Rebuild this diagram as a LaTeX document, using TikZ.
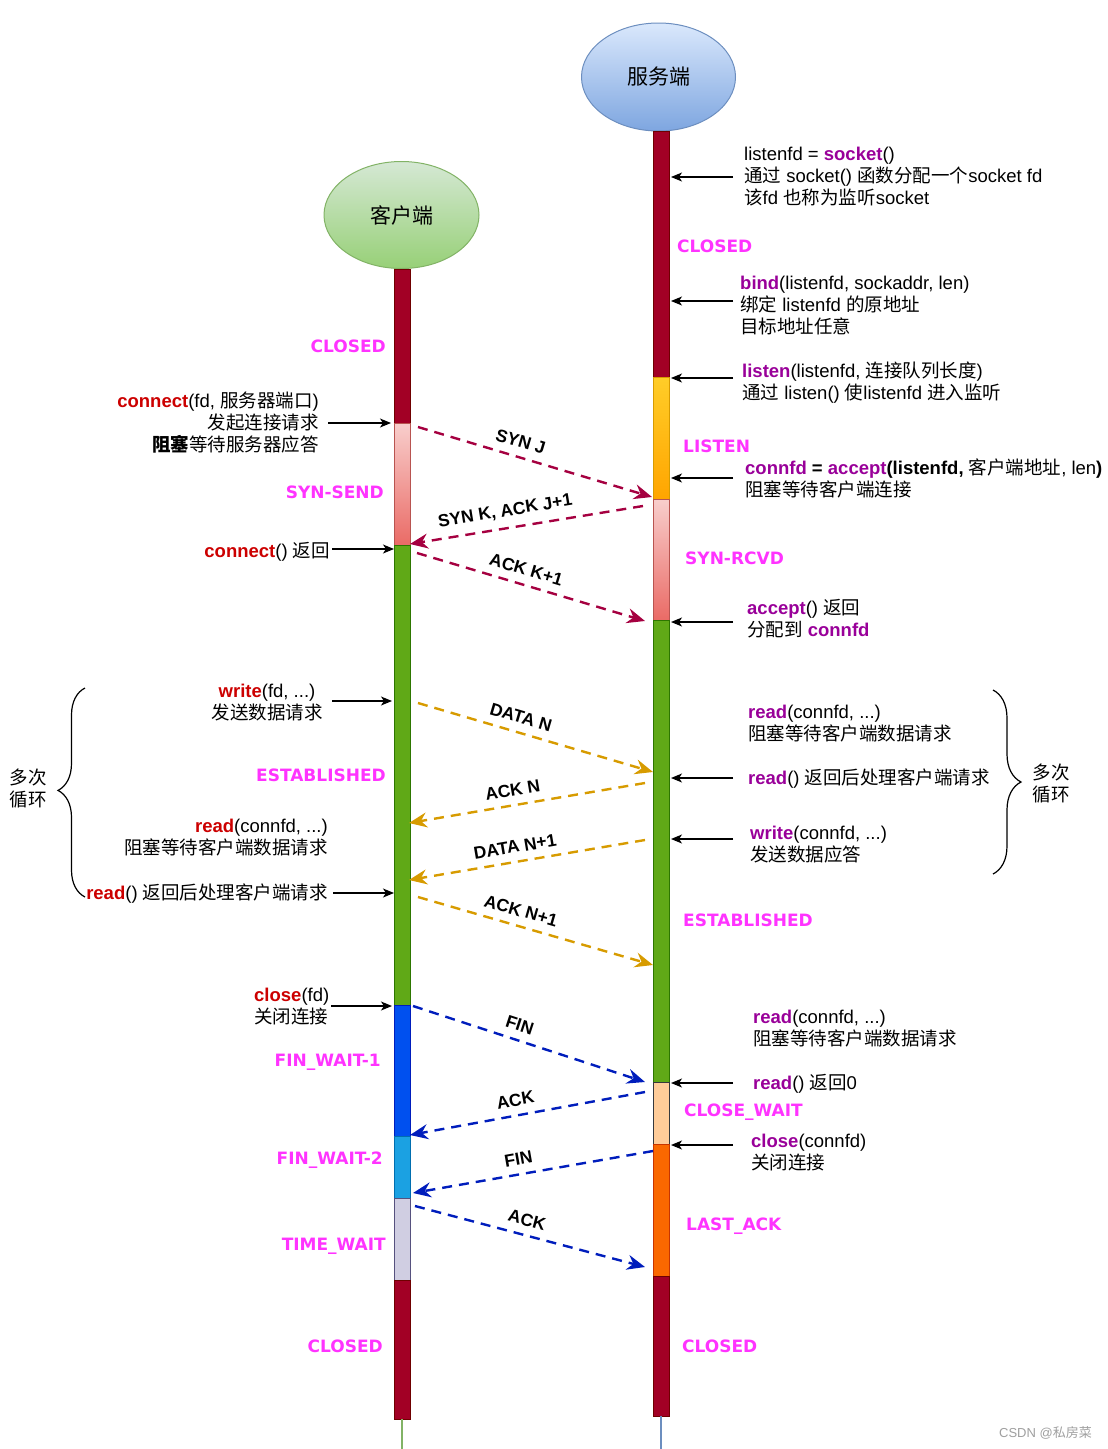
\documentclass[tikz,border=0pt]{standalone}
\usepackage{fontspec}
\setmainfont{Liberation Sans}
\newfontfamily\cjk{Noto Sans CJK SC}
\newfontfamily\statefont{DejaVu Sans}
\usetikzlibrary{arrows.meta,positioning,calc,shapes.geometric,decorations.pathreplacing}

% lifeline colours
\definecolor{closedred}{HTML}{A20025}
\definecolor{closedline}{HTML}{6F0000}
\definecolor{synlight}{HTML}{F8CECC}
\definecolor{syndark}{HTML}{EA6B66}
\definecolor{synline}{HTML}{B85450}
\definecolor{listentop}{HTML}{FFCD28}
\definecolor{listenbot}{HTML}{FFA500}
\definecolor{listenline}{HTML}{D79B00}
\definecolor{estgreen}{HTML}{60A917}
\definecolor{estline}{HTML}{2D7600}
\definecolor{fwone}{HTML}{0050EF}
\definecolor{fwoneline}{HTML}{001DBC}
\definecolor{fwtwo}{HTML}{1BA1E2}
\definecolor{fwtwoline}{HTML}{006EAF}
\definecolor{twait}{HTML}{D0CEE2}
\definecolor{twaitline}{HTML}{56517E}
\definecolor{cwait}{HTML}{FFCC99}
\definecolor{cwaitline}{HTML}{36393D}
\definecolor{lastack}{HTML}{FA6800}
\definecolor{lastackline}{HTML}{C73500}
\definecolor{srvtop}{HTML}{DAE8FC}
\definecolor{srvbot}{HTML}{7EA6E0}
\definecolor{srvline}{HTML}{6C8EBF}
\definecolor{clitop}{HTML}{D5E8D4}
\definecolor{clibot}{HTML}{97D077}
\definecolor{cliline}{HTML}{82B366}
% text and message colours
\definecolor{fnred}{HTML}{CC0000}
\definecolor{fnpurple}{HTML}{990099}
\definecolor{stpink}{HTML}{FF33FF}
\definecolor{synarrow}{HTML}{A50040}
\definecolor{dataarrow}{HTML}{D79B00}
\definecolor{finarrow}{HTML}{001DBC}

\newcommand\zh[1]{{\cjk #1}}
\newcommand\clifn[1]{\textcolor{fnred}{\textbf{#1}}}
\newcommand\srvfn[1]{\textcolor{fnpurple}{\textbf{#1}}}

\begin{document}
\begin{tikzpicture}[x=1pt, y=-1pt,
    seg/.style={draw, line width=0.8pt, minimum width=16, inner sep=0, outer sep=0, anchor=north},
    statelbl/.style={text=stpink, inner sep=0, font=\statefont\bfseries\fontsize{17}{18}\selectfont},
    txt/.style={inner sep=0, font=\fontsize{18.5}{22}\selectfont},
    call/.style={-{Stealth[length=11pt,width=9pt,inset=3pt]}, line width=1.2pt},
    pkt/.style={line width=2.4pt, dash pattern=on 10pt off 7pt, -{Stealth[length=18pt,width=15pt,inset=6pt]}},
    pktlbl/.style={sloped, above=7pt, inner sep=1pt, text=black, font=\bfseries\fontsize{17.5}{18}\selectfont}]

    \useasboundingbox (0,0) rectangle (1108,1449);

    % Hosts
    \node[ellipse, draw=srvline, line width=1pt, top color=srvtop, bottom color=srvbot,
          minimum width=154, minimum height=108, inner sep=0,
          font=\cjk\fontsize{21}{24}\selectfont] (server) at (658.5,77) {服务端};
    \node[ellipse, draw=cliline, line width=1pt, top color=clitop, bottom color=clibot,
          minimum width=155, minimum height=107, inner sep=0,
          font=\cjk\fontsize{21}{24}\selectfont] (client) at (401.5,215) {客户端};

    % Client lifeline
    \node[seg, fill=closedred, draw=closedline, minimum height=154] (cclosed) at (402,269) {};
    \node[seg, top color=synlight, bottom color=syndark, draw=synline, minimum height=122] (csyn) at (cclosed.south) {};
    \node[seg, fill=estgreen, draw=estline, minimum height=460] (cest) at (csyn.south) {};
    \node[seg, fill=fwone, draw=fwoneline, minimum height=131] (cfwone) at (cest.south) {};
    \node[seg, fill=fwtwo, draw=fwtwoline, minimum height=62] (cfwtwo) at (cfwone.south) {};
    \node[seg, fill=twait, draw=twaitline, minimum height=82] (ctwait) at (cfwtwo.south) {};
    \node[seg, fill=closedred, draw=closedline, minimum height=139] (cend) at (ctwait.south) {};
    \draw[cliline, line width=1.5pt] (cend.south) -- ++(0,30);

    % Server lifeline
    \node[seg, fill=closedred, draw=closedline, minimum height=246] (sclosed) at (661,131) {};
    \node[seg, top color=listentop, bottom color=listenbot, draw=listenline, minimum height=122] (slisten) at (sclosed.south) {};
    \node[seg, top color=synlight, bottom color=syndark, draw=synline, minimum height=121] (ssyn) at (slisten.south) {};
    \node[seg, fill=estgreen, draw=estline, minimum height=462] (sest) at (ssyn.south) {};
    \node[seg, fill=cwait, draw=cwaitline, minimum height=62] (scwait) at (sest.south) {};
    \node[seg, fill=lastack, draw=lastackline, minimum height=132] (slast) at (scwait.south) {};
    \node[seg, fill=closedred, draw=closedline, minimum height=140] (send) at (slast.south) {};
    \draw[srvline, line width=1.5pt] (send.south) -- ++(0,33);

    % States
    \node[statelbl, anchor=east] (stc1) at (386,346) {CLOSED};
    \node[statelbl, anchor=east] (stc2) at (384,492) {SYN-SEND};
    \node[statelbl, anchor=east] (stc3) at (386,775) {ESTABLISHED};
    \node[statelbl, anchor=east] (stc4) at (381,1062) {FIN\_WAIT-1};
    \node[statelbl, anchor=east] (stc5) at (383,1160) {FIN\_WAIT-2};
    \node[statelbl, anchor=east] (stc6) at (386,1246) {TIME\_WAIT};
    \node[statelbl, anchor=east] (stc7) at (383,1346) {CLOSED};
    \node[statelbl, anchor=west] (sts1) at (677,246) {CLOSED};
    \node[statelbl, anchor=west] (sts2) at (683,446) {LISTEN};
    \node[statelbl, anchor=west] (sts3) at (685,558) {SYN-RCVD};
    \node[statelbl, anchor=west] (sts4) at (683,920) {ESTABLISHED};
    \node[statelbl, anchor=west] (sts5) at (684,1112) {CLOSE\_WAIT};
    \node[statelbl, anchor=west] (sts6) at (686,1226) {LAST\_ACK};
    \node[statelbl, anchor=west] (sts7) at (682,1346) {CLOSED};

    % Server calls
    \node[txt, anchor=west, align=left] (nsock) at (744,177)
        {listenfd = \srvfn{socket}()\\ \zh{通过} socket() \zh{函数分配一个}socket fd\\ \zh{该}fd \zh{也称为监听}socket};
    \node[txt, anchor=west, align=left] (nbind) at (740,306)
        {\srvfn{bind}(listenfd, sockaddr, len)\\ \zh{绑定} listenfd \zh{的原地址}\\ \zh{目标地址任意}};
    \node[txt, anchor=west, align=left] (nlisten) at (742,383)
        {\srvfn{listen}(listenfd, \zh{连接队列长度})\\ \zh{通过} listen() \zh{使}listenfd \zh{进入监听}};
    \node[txt, anchor=west, align=left] (naccept) at (745,478)
        {\srvfn{connfd} \textbf{=} \srvfn{accept}\textbf{(listenfd,} \zh{客户端地址}, len\textbf{)}\\ \zh{阻塞等待客户端连接}};
    \node[txt, anchor=west, align=left] (naccret) at (747,619)
        {\srvfn{accept}() \zh{返回}\\ \zh{分配到} \srvfn{connfd}};
    \node[txt, anchor=west, align=left] (nsread) at (748,724)
        {\srvfn{read}(connfd, ...)\\ \zh{阻塞等待客户端数据请求}};
    \node[txt, anchor=west] (nsreadret) at (748,779) {\srvfn{read}() \zh{返回后处理客户端请求}};
    \node[txt, anchor=west, align=left] (nswrite) at (750,845)
        {\srvfn{write}(connfd, ...)\\ \zh{发送数据应答}};
    \node[txt, anchor=west, align=left] (nsread2) at (753,1029)
        {\srvfn{read}(connfd, ...)\\ \zh{阻塞等待客户端数据请求}};
    \node[txt, anchor=west] (nsread0) at (753,1084) {\srvfn{read}() \zh{返回}0};
    \node[txt, anchor=west, align=left] (nsclose) at (751,1153)
        {\srvfn{close}(connfd)\\ \zh{关闭连接}};

    % Client calls
    \node[txt, anchor=east, align=right] (nconn) at (319,423)
        {\clifn{connect}(fd, \zh{服务器端口})\\ \zh{发起连接请求}\\ \textbf{\zh{阻塞}}\zh{等待服务器应答}};
    \node[txt, anchor=east] (nconnret) at (330,552) {\clifn{connect}() \zh{返回}};
    \node[txt, align=center] (ncwrite) at (267,703)
        {\clifn{write}(fd, ...)\\ \zh{发送数据请求}};
    \node[txt, anchor=east, align=right] (ncread) at (328,838)
        {\clifn{read}(connfd, ...)\\ \zh{阻塞等待客户端数据请求}};
    \node[txt, anchor=east] (ncreadret) at (328,894) {\clifn{read}() \zh{返回后处理客户端请求}};
    \node[txt, anchor=west, align=left] (ncclose) at (254,1007)
        {\clifn{close}(fd)\\ \zh{关闭连接}};

    % Call arrows
    \foreach \n/\y in {sock/177, bind/301, listen/378, accept/478, accret/622,
                       sreadret/778, swrite/839, sread0/1083, sclose/1145} {
        \coordinate (\n-a) at (733,\y);
        \coordinate (\n-b) at (671,\y);
        \draw[call] (\n-a) -- (\n-b);
    }
    \foreach \n/\xa/\xb/\y in {conn/328/391/423, connret/332/394/549, cwrite/332/392/701,
                               creadret/333/394/893, cclose/331/392/1006} {
        \coordinate (\n-a) at (\xa,\y);
        \coordinate (\n-b) at (\xb,\y);
        \draw[call] (\n-a) -- (\n-b);
    }

    % Packets
    \foreach \n/\col/\xa/\ya/\xb/\yb/\lbl/\p in {
        synj/synarrow/418/427/652/497/{SYN J}/0.42,
        synk/synarrow/643/506/410/544/{SYN K, ACK J+1}/0.58,
        ackk/synarrow/417/553/645/621/{ACK K+1}/0.46,
        datan/dataarrow/418/703/653/772/{DATA N}/0.42,
        ackn/dataarrow/645/783/409/823/{ACK N}/0.55,
        datanp/dataarrow/645/840/409/880/{DATA N+1}/0.54,
        acknp/dataarrow/418/897/653/965/{ACK N+1}/0.42,
        fina/finarrow/413/1006/645/1082/{FIN}/0.44,
        acka/finarrow/645/1092/410/1135/{ACK}/0.54,
        finb/finarrow/653/1151/413/1193/{FIN}/0.55,
        ackb/finarrow/415/1206/645/1267/{ACK}/0.47} {
        \coordinate (\n-s) at (\xa,\ya);
        \coordinate (\n-e) at (\xb,\yb);
        \draw[pkt, color=\col] (\n-s) -- node[pktlbl, pos=\p] {\lbl} (\n-e);
    }

    % Loops
    \draw[decorate, decoration={brace, amplitude=27pt, aspect=0.51}, line width=1.2pt] (85,897) -- (85,688);
    \node[txt, align=left] (loopc) at (28,789) {\zh{多次}\\ \zh{循环}};
    \draw[decorate, decoration={brace, amplitude=28pt, aspect=0.5}, line width=1.2pt] (993,690) -- (993,874);
    \node[txt, align=left] (loops) at (1051,784) {\zh{多次}\\ \zh{循环}};

    % Watermark
    \node[inner sep=0, anchor=east, text=gray!75, font=\fontsize{13}{14}\selectfont] (mark) at (1092,1433) {CSDN @\zh{私房菜}};
\end{tikzpicture}
\end{document}
